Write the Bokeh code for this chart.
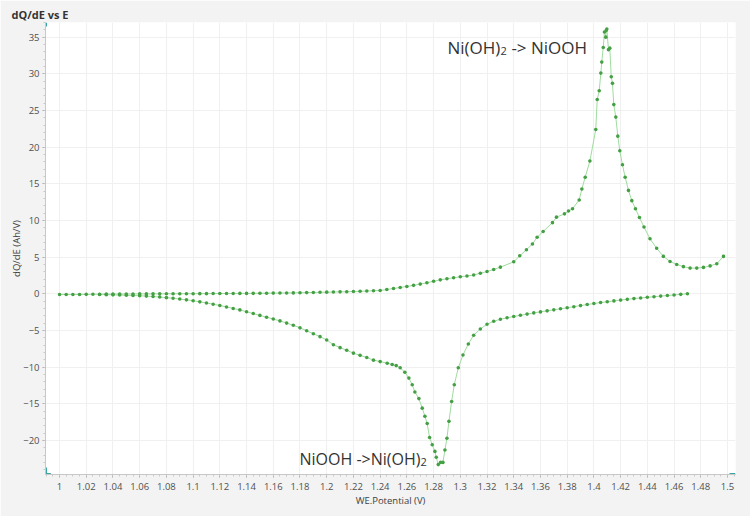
import math
from bokeh.plotting import figure
from bokeh.models import Label, SingleIntervalTicker, CustomJSTickFormatter, Range1d
from bokeh.embed import file_html
from bokeh.resources import INLINE

# Oxidation branch (charge): potential (V) and dQ/dE (Ah/V)
ox_x = [1.000, 1.005, 1.010, 1.015, 1.020, 1.025, 1.030, 1.035, 1.040, 1.045,
        1.050, 1.055, 1.060, 1.065, 1.070, 1.075, 1.080, 1.085, 1.090, 1.095,
        1.100, 1.105, 1.110, 1.115, 1.120, 1.125, 1.130, 1.135, 1.140, 1.145,
        1.150, 1.155, 1.160, 1.165, 1.170, 1.175, 1.180, 1.185, 1.190, 1.195,
        1.200, 1.205, 1.210, 1.215, 1.220, 1.225, 1.230, 1.235, 1.240, 1.245,
        1.250, 1.255, 1.260, 1.265, 1.270, 1.275, 1.280, 1.285, 1.290, 1.295,
        1.300, 1.305, 1.310, 1.315, 1.320, 1.325, 1.330, 1.340, 1.3445, 1.3495,
        1.354, 1.3575, 1.362, 1.369, 1.372, 1.378, 1.381, 1.384, 1.389, 1.391,
        1.3935, 1.397, 1.4014, 1.4025, 1.404, 1.4052, 1.4059, 1.407, 1.4079, 1.4089,
        1.4092, 1.4097, 1.4109, 1.4119, 1.413, 1.4139, 1.4149, 1.4164, 1.4179, 1.4194,
        1.4214, 1.4234, 1.4259, 1.4284, 1.4311, 1.4341, 1.4375, 1.442, 1.447, 1.452,
        1.457, 1.462, 1.467, 1.472, 1.477, 1.482, 1.487, 1.492, 1.497]
ox_y = [-0.10, -0.10, -0.10, -0.09, -0.08, -0.07, -0.06, -0.05, -0.05, -0.04,
        -0.03, -0.03, -0.02, -0.02, -0.01, -0.01, 0.00, 0.00, 0.00, 0.01,
        0.01, 0.02, 0.02, 0.03, 0.03, 0.04, 0.04, 0.05, 0.05, 0.06,
        0.07, 0.08, 0.09, 0.10, 0.11, 0.12, 0.14, 0.16, 0.18, 0.20,
        0.22, 0.24, 0.26, 0.28, 0.31, 0.34, 0.37, 0.41, 0.45, 0.58,
        0.72, 0.86, 1.00, 1.15, 1.32, 1.50, 1.70, 1.90, 2.05, 2.18,
        2.32, 2.42, 2.56, 2.80, 3.04, 3.31, 3.63, 4.36, 5.18, 6.00,
        6.80, 7.70, 8.50, 9.70, 10.45, 10.90, 11.30, 11.60, 12.80, 14.30,
        15.90, 18.10, 22.40, 26.50, 27.70, 30.10, 31.60, 33.60, 35.70, 35.00,
        35.90, 36.10, 33.30, 33.50, 29.60, 28.70, 25.80, 24.10, 21.50, 19.50,
        17.60, 15.90, 14.10, 12.70, 11.60, 10.40, 9.10, 7.50, 6.20, 5.10,
        4.40, 4.00, 3.70, 3.50, 3.50, 3.60, 3.80, 4.10, 5.10]

# Reduction branch (discharge)
red_x = [1.470, 1.465, 1.460, 1.455, 1.450, 1.445, 1.440, 1.435, 1.430, 1.425,
         1.420, 1.415, 1.410, 1.405, 1.400, 1.395, 1.390, 1.385, 1.380, 1.375,
         1.370, 1.365, 1.360, 1.355, 1.350, 1.345, 1.340, 1.335, 1.330, 1.325,
         1.320, 1.315, 1.310, 1.306, 1.302, 1.2985, 1.2955, 1.2935, 1.2915, 1.2900,
         1.2885, 1.2870, 1.2852, 1.2835, 1.2820, 1.2810, 1.2790, 1.2770, 1.2752, 1.2735,
         1.2715, 1.2690, 1.2660, 1.2640, 1.2615, 1.2585, 1.2550, 1.2520, 1.2490, 1.2453,
         1.2400, 1.2350, 1.2300, 1.2250, 1.2200, 1.2150, 1.2100, 1.2050, 1.2000, 1.1950,
         1.1900, 1.1850, 1.1800, 1.1750, 1.1700, 1.1650, 1.1600, 1.1550, 1.1500, 1.1450,
         1.1400, 1.1350, 1.1300, 1.1250, 1.1200, 1.1150, 1.1100, 1.1050, 1.1000, 1.0950,
         1.0900, 1.0850, 1.0800, 1.0750, 1.0700, 1.0650, 1.0600, 1.0550, 1.0500, 1.0450,
         1.0400, 1.0350, 1.0300]
red_y = [0.00, -0.08, -0.16, -0.24, -0.32, -0.40, -0.48, -0.57, -0.66, -0.76,
         -0.86, -0.97, -1.08, -1.20, -1.33, -1.47, -1.61, -1.76, -1.91, -2.05,
         -2.19, -2.33, -2.47, -2.61, -2.77, -2.93, -3.10, -3.28, -3.48, -3.75,
         -4.15, -4.80, -5.65, -6.85, -8.35, -10.1, -12.4, -14.7, -17.4, -19.7,
         -21.3, -23.0, -23.0, -23.3, -22.3, -21.5, -20.6, -19.6, -17.7, -16.7,
         -15.6, -14.3, -13.4, -12.4, -11.5, -10.7, -10.1, -9.8, -9.65, -9.47,
         -9.25, -9.05, -8.7, -8.4, -8.1, -7.7, -7.35, -6.95, -6.3, -5.85,
         -5.45, -5.05, -4.65, -4.3, -4.0, -3.7, -3.45, -3.2, -2.95, -2.7,
         -2.45, -2.2, -2.0, -1.8, -1.6, -1.42, -1.25, -1.1, -0.95, -0.83,
         -0.72, -0.62, -0.53, -0.45, -0.38, -0.32, -0.27, -0.23, -0.20, -0.17,
         -0.15, -0.12, -0.10]

title_text = "dQ/dE vs E"
x_label = "WE.Potential (V)"
y_label = "dQ/dE (Ah/V)"

FONT = "Open Sans"
X0, X1 = 0.9895, 1.506
Y0, Y1 = -24.65, 37.0

p = figure(width=750, height=516, x_range=Range1d(X0, X1), y_range=Range1d(Y0, Y1),
           output_backend="svg", toolbar_location=None, title=title_text,
           min_border_left=45, min_border_right=15, min_border_top=22, min_border_bottom=42,
           border_fill_color="#f3f3f3", background_fill_color="white")
p.outline_line_color = None

p.title.align = "left"
p.title.offset = -34
p.title.standoff = 2
p.title.text_font = FONT
p.title.text_font_size = "11px"
p.title.text_font_style = "bold"
p.title.text_color = "#333333"

xt = SingleIntervalTicker(interval=0.02, num_minor_ticks=4)
yt = SingleIntervalTicker(interval=5, num_minor_ticks=5)
p.xaxis.ticker = xt
p.yaxis.ticker = yt
p.xgrid.ticker = xt
p.ygrid.ticker = yt
p.xaxis.formatter = CustomJSTickFormatter(code="return parseFloat(tick.toFixed(2)).toString();")

for ax in (p.xaxis, p.yaxis):
    ax.axis_line_color = "#c8c8c8"
    ax.major_tick_line_color = "#a8a8a8"
    ax.minor_tick_line_color = "#c8c8c8"
    ax.major_tick_out = 3
    ax.major_tick_in = 0
    ax.minor_tick_out = 2
    ax.minor_tick_in = 0
    ax.major_label_text_font = FONT
    ax.major_label_text_font_size = "9.5px"
    ax.major_label_text_color = "#505050"
    ax.axis_label_text_font = FONT
    ax.axis_label_text_font_size = "9.5px"
    ax.axis_label_text_font_style = "normal"
    ax.axis_label_text_color = "#404040"

p.yaxis.major_label_standoff = 3
p.xaxis.major_label_standoff = 5
p.xaxis.axis_label = x_label
p.yaxis.axis_label = y_label
p.xaxis.axis_label_standoff = 1
p.yaxis.axis_label_standoff = -3

p.xgrid.grid_line_color = "#f0f0f0"
p.ygrid.grid_line_color = "#f0f0f0"

LINE = "#9fdc9f"
DOT = "#45a045"
p.line(ox_x, ox_y, line_color=LINE, line_width=1)
p.line(red_x, red_y, line_color=LINE, line_width=1)
p.scatter(ox_x, ox_y, size=3.6, fill_color=DOT, line_color=None)
p.scatter(red_x, red_y, size=3.6, fill_color=DOT, line_color=None)

# small teal corner handles of the frame
TEAL = "#3aa6a6"
p.segment(x0=[X0, X0, X0, X1 - 0.0045], y0=[Y1, Y0, Y0, Y0],
          x1=[X0, X0, X0 + 0.004, X1], y1=[Y1 - 0.55, Y0 + 0.95, Y0, Y0],
          line_color=TEAL, line_width=3)


def lab(x, y, text, xo=0, yo=0, size="16px", align="left", baseline="alphabetic",
        angle=0.0, style="normal", color="#333333"):
    p.add_layout(Label(x=x, y=y, x_offset=xo, y_offset=yo, text=text,
                       text_font=FONT, text_font_size=size, text_align=align,
                       text_baseline=baseline, angle=angle, text_font_style=style,
                       text_color=color))


# annotations
lab(1.2904, 33.6, "Ni(OH)", size="17px")
lab(1.2904, 33.6, "2", xo=53, yo=-3.5, size="11px")
lab(1.2904, 33.6, "\u00a0-> NiOOH", xo=59.5, size="17px")

lab(1.1796, -22.5, "NiOOH ->Ni(OH)", size="16px")
lab(1.1796, -22.5, "2", xo=121, yo=-3, size="11px")

open("out.html", "w").write(file_html(p, INLINE))
